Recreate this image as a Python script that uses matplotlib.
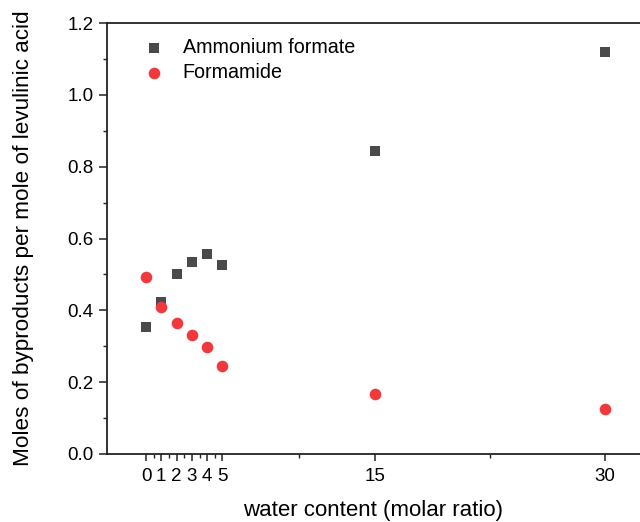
import matplotlib
matplotlib.use("Agg")
import matplotlib.pyplot as plt

plt.rcParams["font.family"] = ["Liberation Sans", "DejaVu Sans"]

# data
water = [0, 1, 2, 3, 4, 5, 15, 30]
ammonium_formate = [0.353, 0.423, 0.501, 0.534, 0.557, 0.527, 0.845, 1.120]
formamide = [0.494, 0.410, 0.366, 0.331, 0.297, 0.245, 0.168, 0.125]

x_major = [0, 1, 2, 3, 4, 5, 15, 30]
x_minor = [0.5, 1.5, 2.5, 3.5, 4.5, 10, 22.5]

W, H = 640, 522
fig = plt.figure(figsize=(W / 100, H / 100), dpi=100)
ax = fig.add_axes([107 / W, (H - 454) / H, (W - 107) / W, (454 - 23) / H])

ax.scatter(water, ammonium_formate, marker="s", s=58, color="#4a4a4a",
           linewidths=0, label="Ammonium formate", zorder=3)
ax.scatter(water, formamide, marker="o", s=70, color="#f0393c",
           linewidths=0, label="Formamide", zorder=4)

ax.set_xlim(-2.55, 32.3)
ax.set_ylim(0, 1.2)
ax.set_xticks(x_major)
ax.set_xticks(x_minor, minor=True)
ax.set_xticklabels([str(v) for v in x_major])
ax.set_yticks([0.0, 0.2, 0.4, 0.6, 0.8, 1.0, 1.2])
ax.set_yticks([0.1, 0.3, 0.5, 0.7, 0.9, 1.1], minor=True)
ax.set_yticklabels(["0.0", "0.2", "0.4", "0.6", "0.8", "1.0", "1.2"])

for side in ("left", "bottom", "top"):
    ax.spines[side].set_linewidth(1.3)
    ax.spines[side].set_color("#222222")
ax.spines["right"].set_visible(False)

ax.tick_params(which="major", direction="out", length=5, width=1.1,
               labelsize=13.5, colors="#222222", labelcolor="black", pad=3)
ax.tick_params(which="minor", direction="out", length=3, width=1.0,
               colors="#222222")
ax.tick_params(axis="x", which="major", pad=5)
ax.tick_params(axis="y", which="major", length=5.5, pad=4)

ax.set_xlabel("water content (molar ratio)", fontsize=16, labelpad=11)
ax.set_ylabel("Moles of byproducts per mole of levulinic acid", fontsize=16.2,
              labelpad=24)

ax.legend(loc="upper left", bbox_to_anchor=(0.029, 0.992), frameon=False,
          fontsize=14.2, handletextpad=0.45, labelspacing=0.3,
          borderaxespad=0.2)

fig.savefig("out.png", dpi=100)
